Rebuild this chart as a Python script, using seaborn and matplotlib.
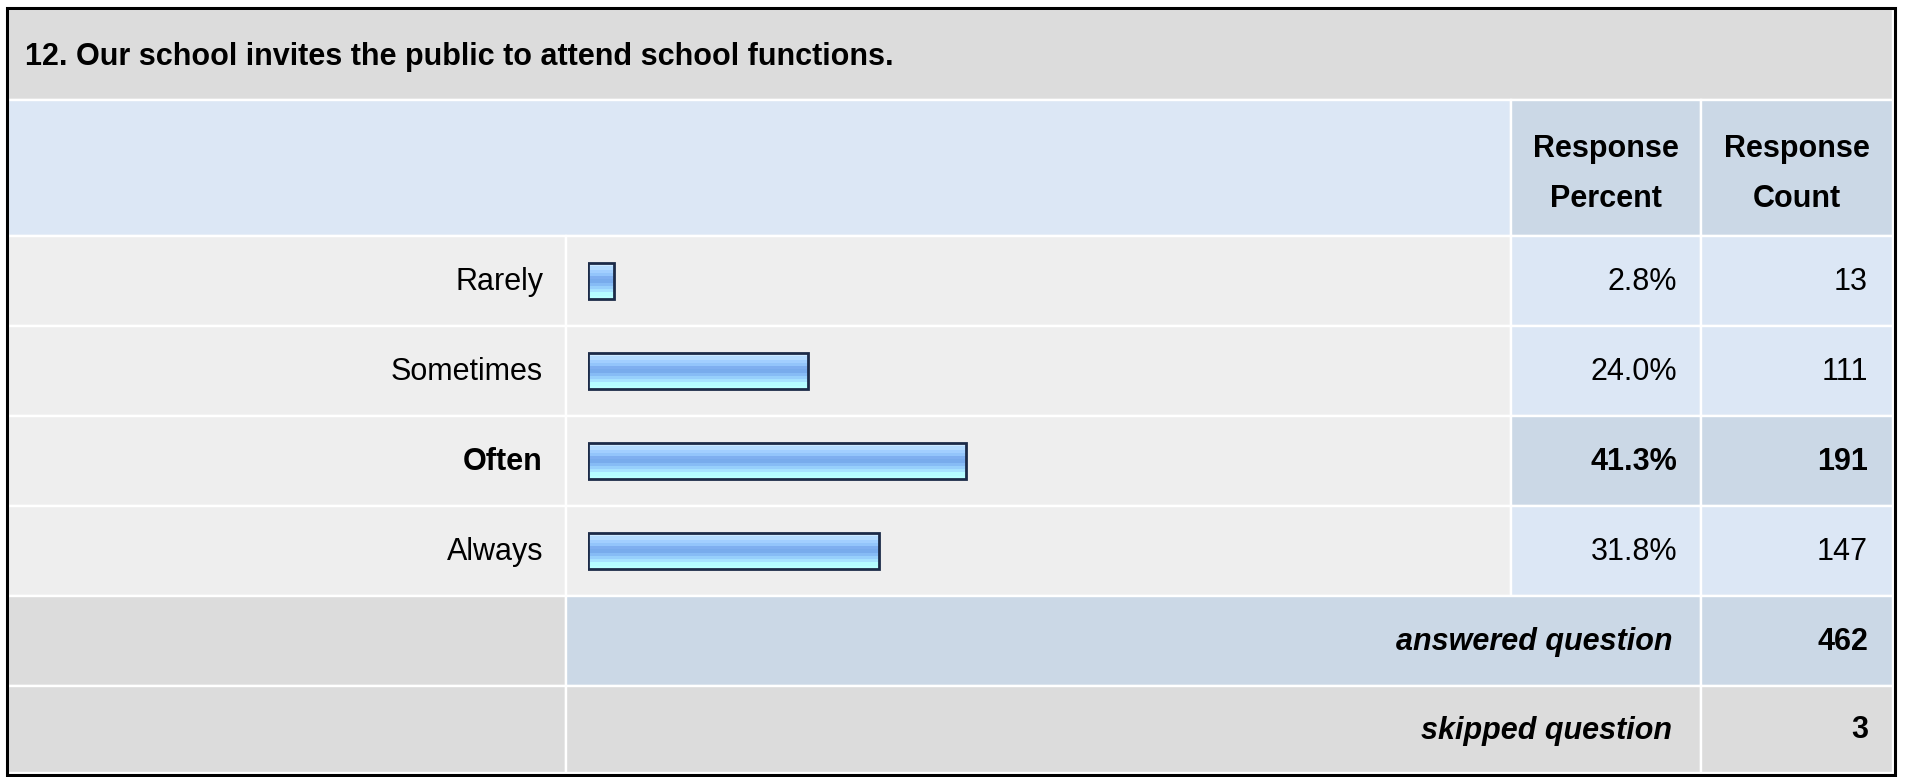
import numpy as np
import pandas as pd
import seaborn as sns
import matplotlib.pyplot as plt
from matplotlib.colors import to_rgb
from matplotlib.patches import Rectangle

# Survey data
question = "12. Our school invites the public to attend school functions."
answers = ["Rarely", "Sometimes", "Often", "Always"]
percents = [2.8, 24.0, 41.3, 31.8]
counts = [13, 111, 191, 147]
answered = 462
skipped = 3
highlight = "Often"

W, H = 1907, 777
sns.set_theme(style="white")
plt.rcParams["font.family"] = ["Liberation Sans", "DejaVu Sans"]
plt.rcParams["text.color"] = "black"

GRAY = "#dcdcdc"
LIGHT = "#eeeeee"
BLUE = "#dce7f5"
BLUE2 = "#cbd8e6"
FS = 22

fig = plt.figure(figsize=(W / 100, H / 100), dpi=100)
fig.patch.set_facecolor("white")

# background table drawn in pixel space
bg = fig.add_axes([0, 0, 1, 1])
bg.set_xlim(0, W)
bg.set_ylim(H, 0)
bg.axis("off")

cols = [8, 566, 1511, 1701, 1893]
rows = [9, 100, 236, 326, 416, 506, 596, 686, 773]


def cell(x0, x1, y0, y1, color):
    bg.add_patch(Rectangle((x0, y0), x1 - x0, y1 - y0, facecolor=color,
                           edgecolor="white", lw=1.7))


def mid(a, b):
    return (a + b) / 2


# title band
cell(cols[0], cols[4], rows[0], rows[1], GRAY)
bg.text(25, mid(rows[0], rows[1]) + 2, question, fontsize=FS, weight="bold",
        ha="left", va="center")

# header
cell(cols[0], cols[2], rows[1], rows[2], BLUE)
cell(cols[2], cols[3], rows[1], rows[2], BLUE2)
cell(cols[3], cols[4], rows[1], rows[2], BLUE2)
bg.text(mid(cols[2], cols[3]), mid(rows[1], rows[2]) + 6, "Response\nPercent",
        fontsize=FS, weight="bold", ha="center", va="center", linespacing=1.9)
bg.text(mid(cols[3], cols[4]), mid(rows[1], rows[2]) + 6, "Response\nCount",
        fontsize=FS, weight="bold", ha="center", va="center", linespacing=1.9)

# answer rows
for i, (ans, pct, cnt) in enumerate(zip(answers, percents, counts)):
    y0, y1 = rows[2 + i], rows[3 + i]
    yc = mid(y0, y1) + 1
    strong = ans == highlight
    side = BLUE2 if strong else BLUE
    wt = "bold" if strong else "normal"
    cell(cols[0], cols[1], y0, y1, LIGHT)
    cell(cols[1], cols[2], y0, y1, LIGHT)
    cell(cols[2], cols[3], y0, y1, side)
    cell(cols[3], cols[4], y0, y1, side)
    bg.text(cols[1] - 23, yc, ans, fontsize=FS, weight=wt, ha="right", va="center")
    bg.text(cols[3] - 24, yc, f"{pct:.1f}%", fontsize=FS, weight=wt, ha="right", va="center")
    bg.text(cols[4] - 25, yc, str(cnt), fontsize=FS, weight=wt, ha="right", va="center")

# summary rows
y0, y1 = rows[6], rows[7]
cell(cols[0], cols[1], y0, y1, GRAY)
cell(cols[1], cols[3], y0, y1, BLUE2)
cell(cols[3], cols[4], y0, y1, BLUE2)
bg.text(cols[3] - 29, mid(y0, y1) + 1, "answered question", fontsize=FS, weight="bold",
        style="italic", ha="right", va="center")
bg.text(cols[4] - 25, mid(y0, y1) + 1, str(answered), fontsize=FS, weight="bold",
        ha="right", va="center")

y0, y1 = rows[7], rows[8]
cell(cols[0], cols[1], y0, y1, GRAY)
cell(cols[1], cols[3], y0, y1, GRAY)
cell(cols[3], cols[4], y0, y1, GRAY)
bg.text(cols[3] - 29, mid(y0, y1) + 1, "skipped question", fontsize=FS, weight="bold",
        style="italic", ha="right", va="center")
bg.text(cols[4] - 25, mid(y0, y1) + 1, str(skipped), fontsize=FS, weight="bold",
        ha="right", va="center")

# outer frame
bg.add_patch(Rectangle((6.5, 8), 1888, 766.5, fill=False, edgecolor="black", lw=2.2))

# bar chart in the middle column
bar_ax = fig.add_axes([588 / W, 1 - rows[6] / H, 915 / W, (rows[6] - rows[2]) / H])
df = pd.DataFrame({"answer": answers, "percent": percents})
sns.barplot(data=df, x="percent", y="answer", orient="h", width=0.39,
            color="#8fc2f5", ax=bar_ax, edgecolor="#1c2b48", linewidth=2.0)

stripes = ["#cde9ff", "#b4dbff", "#a2cfff", "#93c5fb", "#7faff0", "#78abec",
           "#86bbf5", "#97cffb", "#a6e2ff", "#b4fbff", "#b8ffff"]
grad = np.array([to_rgb(c) for c in stripes])[:, None, :]
for p in bar_ax.patches:
    x, y, w, h = p.get_x(), p.get_y(), p.get_width(), p.get_height()
    im = bar_ax.imshow(grad, extent=(x, x + w, y + h, y), origin="upper",
                       aspect="auto", interpolation="nearest", zorder=1)
    im.set_clip_path(p)
    p.set_facecolor("none")
    p.set_zorder(2)

bar_ax.set_xlim(0, 100)
bar_ax.set_ylim(len(answers) - 0.5, -0.5)
bar_ax.axis("off")

fig.savefig("out.png", dpi=100)
